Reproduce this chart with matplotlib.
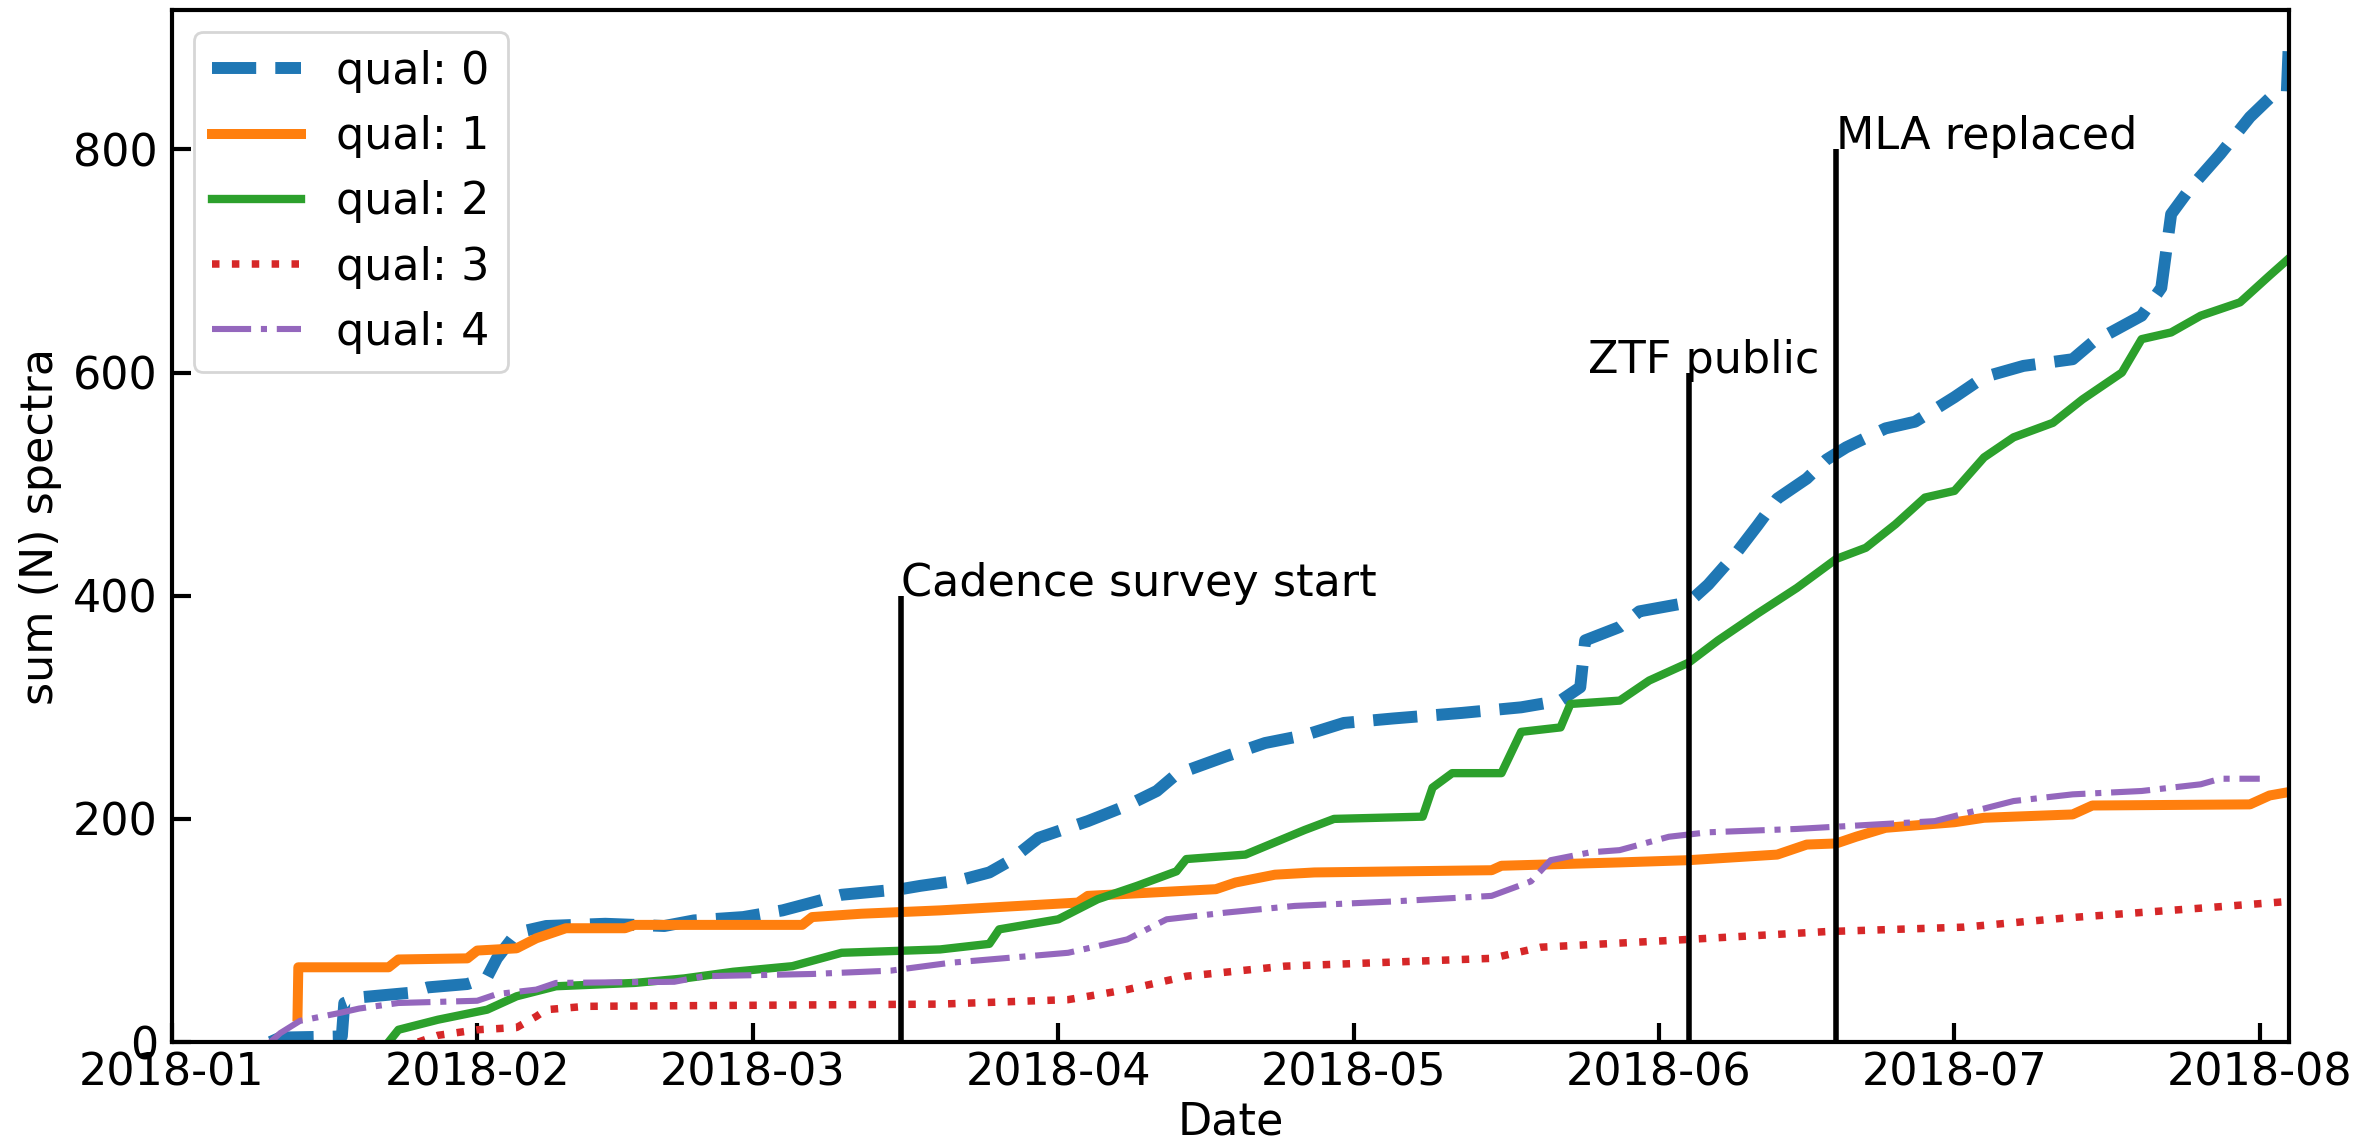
import matplotlib
matplotlib.use("Agg")
import matplotlib.pyplot as plt
import matplotlib.dates as mdates
import pandas as pd

# ---- data ----
q0_dates = ['2018-01-11', '2018-01-12', '2018-01-18 06:00', '2018-01-18 12:00', '2018-01-20',
            '2018-01-25', '2018-01-27', '2018-01-31', '2018-02-02', '2018-02-03', '2018-02-05',
            '2018-02-08', '2018-02-14', '2018-02-20', '2018-02-23', '2018-02-28', '2018-03-04',
            '2018-03-07', '2018-03-10', '2018-03-16', '2018-03-18', '2018-03-22', '2018-03-25',
            '2018-03-27', '2018-03-30', '2018-04-04', '2018-04-08', '2018-04-11', '2018-04-13',
            '2018-04-18', '2018-04-22', '2018-04-26', '2018-04-30', '2018-05-05', '2018-05-12',
            '2018-05-18', '2018-05-22', '2018-05-24', '2018-05-24 12:00', '2018-05-28',
            '2018-05-30', '2018-06-04', '2018-06-06', '2018-06-09', '2018-06-11', '2018-06-13',
            '2018-06-16', '2018-06-18', '2018-06-20', '2018-06-24', '2018-06-27', '2018-07-01',
            '2018-07-04', '2018-07-08', '2018-07-13', '2018-07-15', '2018-07-20', '2018-07-22',
            '2018-07-23', '2018-07-25', '2018-07-28', '2018-07-31', '2018-08-02',
            '2018-08-03 18:00', '2018-08-03 22:00']
q0_values = [0, 4, 5, 35, 40, 44, 49, 52, 58, 75, 98, 104, 106, 104, 109, 112, 118, 125, 132,
             137, 140, 145, 152, 162, 183, 198, 212, 225, 240, 256, 268, 275, 286, 290, 295,
             300, 306, 318, 360, 372, 386, 394, 410, 440, 463, 487, 505, 522, 533, 550, 556,
             578, 596, 606, 612, 627, 651, 676, 742, 766, 796, 829, 846, 852, 888]

q1_dates = ['2018-01-13 18:00', '2018-01-13 20:00', '2018-01-23', '2018-01-24', '2018-01-31',
            '2018-02-01', '2018-02-05', '2018-02-07', '2018-02-10', '2018-02-16', '2018-02-17',
            '2018-03-06', '2018-03-07', '2018-03-12', '2018-03-20', '2018-03-26', '2018-04-03',
            '2018-04-04', '2018-04-17', '2018-04-19', '2018-04-23', '2018-04-27', '2018-05-15',
            '2018-05-16', '2018-05-28', '2018-06-04', '2018-06-13', '2018-06-16', '2018-06-19',
            '2018-06-21', '2018-06-24', '2018-07-01', '2018-07-04', '2018-07-13', '2018-07-15',
            '2018-07-31', '2018-08-02', '2018-08-03 22:00']
q1_values = [23, 67, 67, 74, 75, 82, 84, 93, 102, 102, 105, 105, 112, 115, 118, 121, 125, 131,
             137, 143, 150, 152, 154, 158, 161, 163, 168, 177, 178, 184, 192, 197, 201, 204,
             212, 213, 221, 224]

q2_dates = ['2018-01-23', '2018-01-24', '2018-01-28', '2018-02-02', '2018-02-05', '2018-02-09',
            '2018-02-17', '2018-02-22', '2018-02-27', '2018-03-05', '2018-03-10', '2018-03-20',
            '2018-03-25', '2018-03-26', '2018-04-01', '2018-04-05', '2018-04-09', '2018-04-13',
            '2018-04-14', '2018-04-20', '2018-04-23', '2018-04-26', '2018-04-29', '2018-05-08',
            '2018-05-09', '2018-05-11', '2018-05-16', '2018-05-18', '2018-05-22', '2018-05-23',
            '2018-05-28', '2018-05-31', '2018-06-04', '2018-06-07', '2018-06-11', '2018-06-15',
            '2018-06-19', '2018-06-22', '2018-06-25', '2018-06-28', '2018-07-01', '2018-07-04',
            '2018-07-07', '2018-07-11', '2018-07-14', '2018-07-18', '2018-07-20', '2018-07-23',
            '2018-07-26', '2018-07-30', '2018-08-02', '2018-08-03 22:00']
q2_values = [0, 11, 20, 29, 41, 50, 53, 57, 63, 68, 80, 83, 88, 101, 110, 128, 140, 153, 164,
             168, 179, 190, 200, 202, 228, 241, 241, 278, 282, 303, 306, 324, 340, 360, 384,
             407, 433, 443, 464, 488, 494, 524, 542, 555, 576, 600, 630, 636, 651, 663, 687, 702]

q3_dates = ['2018-01-26', '2018-01-28', '2018-02-01', '2018-02-05', '2018-02-07', '2018-02-08',
            '2018-02-12', '2018-03-20', '2018-04-02', '2018-04-08', '2018-04-14', '2018-04-24',
            '2018-05-15', '2018-05-20', '2018-06-02', '2018-06-18', '2018-07-02', '2018-07-12',
            '2018-07-26', '2018-08-03 22:00']
q3_values = [0, 6, 11, 13, 23, 29, 32, 34, 38, 47, 59, 68, 75, 85, 91, 99, 103, 111, 120, 126]

q4_dates = ['2018-01-11', '2018-01-12', '2018-01-14', '2018-01-18', '2018-01-20', '2018-01-24',
            '2018-02-01', '2018-02-03', '2018-02-07', '2018-02-09', '2018-02-21', '2018-02-24',
            '2018-03-07', '2018-03-15', '2018-03-21', '2018-04-02', '2018-04-08', '2018-04-12',
            '2018-04-18', '2018-04-25', '2018-05-05', '2018-05-15', '2018-05-19', '2018-05-21',
            '2018-05-25', '2018-05-28', '2018-06-02', '2018-06-06', '2018-06-15', '2018-06-19',
            '2018-06-29', '2018-07-03', '2018-07-07', '2018-07-13', '2018-07-20', '2018-07-26',
            '2018-07-28', '2018-08-01']
q4_values = [0, 8, 19, 26, 30, 35, 37, 43, 47, 53, 54, 59, 61, 64, 71, 80, 92, 110, 116, 122,
             126, 131, 144, 163, 170, 172, 184, 188, 191, 193, 198, 207, 216, 222, 225, 231,
             236, 236]

labels = ['qual: 0', 'qual: 1', 'qual: 2', 'qual: 3', 'qual: 4']

event_names = ['Cadence survey start', 'ZTF public', 'MLA replaced']
event_dates = ['2018-03-16', '2018-06-04', '2018-06-19']
event_heights = [400, 600, 800]

# ---- figure ----
plt.rcParams['font.family'] = 'DejaVu Sans'
plt.rcParams['font.size'] = 16

fig = plt.figure(figsize=(11.825, 5.74), dpi=200)
ax = fig.add_axes([0.0727, 0.0923, 0.8953, 0.899])

series = [(q0_dates, q0_values), (q1_dates, q1_values), (q2_dates, q2_values),
          (q3_dates, q3_values), (q4_dates, q4_values)]
styles = [dict(color='#1f77b4', ls='--', lw=4.3),
          dict(color='#ff7f0e', ls='-', lw=3.6),
          dict(color='#2ca02c', ls='-', lw=3.0),
          dict(color='#d62728', ls=':', lw=2.7),
          dict(color='#9467bd', ls='-.', lw=2.2)]

for (d, v), lab, st in zip(series, labels, styles):
    ax.plot(pd.to_datetime(d, format='mixed'), v, label=lab, **st)

for name, d, h in zip(event_names, event_dates, event_heights):
    x = pd.Timestamp(d)
    ax.vlines(x, 0, h, color='black', lw=2.0)
    if name == 'ZTF public':
        ax.text(x + pd.Timedelta(hours=36), h, name, ha='center', va='baseline', fontsize=16)
    else:
        ax.text(x, h, name, ha='left', va='baseline', fontsize=16)

ax.set_xlim(pd.Timestamp('2018-01-01'), pd.Timestamp('2018-08-04'))
ax.set_ylim(0, 925)
ax.set_yticks([0, 200, 400, 600, 800])

ax.xaxis.set_major_locator(mdates.MonthLocator())
ax.xaxis.set_major_formatter(mdates.DateFormatter('%Y-%m'))

ax.tick_params(direction='in', length=7, width=1.5, labelsize=16, top=False, right=False)
ax.tick_params(axis='y', pad=5)
for sp in ax.spines.values():
    sp.set_linewidth(1.5)

ax.set_xlabel('Date', fontsize=16, labelpad=2)
ax.set_ylabel('sum (N) spectra', fontsize=16)

ax.legend(loc='upper left', fontsize=16)

fig.savefig('out.png', dpi=200)
